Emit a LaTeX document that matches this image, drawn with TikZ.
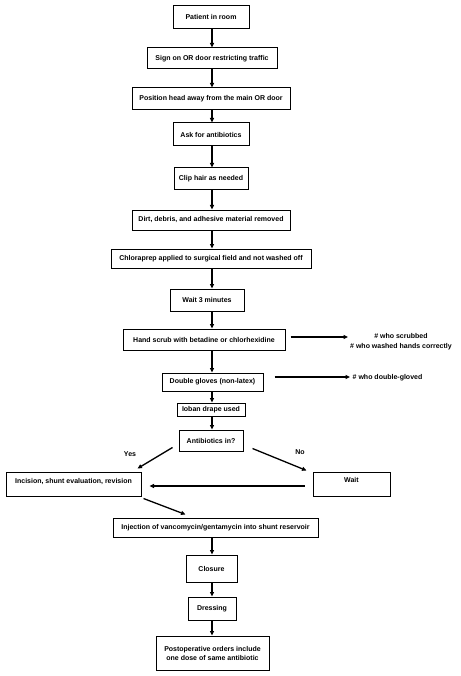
\documentclass[tikz,border=0pt]{standalone}
\usepackage{fontspec}
\setmainfont{Liberation Sans}
\usetikzlibrary{arrows.meta}
\begin{document}
\begin{tikzpicture}[x=1pt,y=-1pt,
  box/.style={draw, line width=1pt, inner sep=0pt, align=center, font=\fontsize{7}{9}\selectfont\bfseries},
  lbl/.style={inner sep=0pt, align=center, font=\fontsize{7}{9.5}\selectfont\bfseries},
  arr/.style={line width=1.3pt, -{Triangle[length=4.5pt,width=4pt]}}]
\useasboundingbox (0,0) rectangle (460,676);
\coordinate (spine) at (212,0);
\node[box, minimum width=76pt, minimum height=23pt] (n1) at (211,17.5) {Patient in room};
\node[box, minimum width=130pt, minimum height=21pt] (n2) at (212,58.5) {Sign on OR door restricting traffic};
\node[box, minimum width=158pt, minimum height=22pt] (n3) at (211,99) {Position head away from the main OR door};
\node[box, minimum width=76pt, minimum height=23pt] (n4) at (211,134.5) {Ask for antibiotics};
\node[box, minimum width=74pt, minimum height=22pt] (n5) at (211,179) {Clip hair as needed};
\node[box, minimum width=158pt, minimum height=20pt] (n6) at (211,220) {Dirt, debris, and adhesive material removed};
\node[box, minimum width=200pt, minimum height=19pt] (n7) at (211,258.5) {Chloraprep applied to surgical field and not washed off};
\node[box, minimum width=74pt, minimum height=22pt] (n8) at (207,300) {Wait 3 minutes};
\node[box, minimum width=162pt, minimum height=21pt] (n9) at (204,339.5) {Hand scrub with betadine or chlorhexidine};
\node[box, minimum width=101pt, minimum height=18pt] (n10) at (212.5,382) {Double gloves (non-latex)};
\node[box, minimum width=68pt, minimum height=13pt] (n11) at (211,409.5) {Ioban drape used};
\node[box, minimum width=64pt, minimum height=21pt] (n12) at (211,440.5) {Antibiotics in?};
\node[box, minimum width=135pt, minimum height=24pt, text depth=6pt] (inc) at (73.5,484) {Incision, shunt evaluation, revision};
\node[box, minimum width=77pt, minimum height=24pt, text depth=8pt] (wait) at (351.5,484) {Wait};
\node[box, minimum width=205pt, minimum height=19pt] (inj) at (215.5,527.5) {Injection of vancomycin/gentamycin into shunt reservoir};
\node[box, minimum width=51pt, minimum height=27pt] (n16) at (211.5,568.5) {Closure};
\node[box, minimum width=48pt, minimum height=23pt] (n17) at (212,608.5) {Dressing};
\node[box, minimum width=113pt, minimum height=34pt] (n18) at (212.5,653) {Postoperative orders include\\one dose of same antibiotic};
\node[lbl, anchor=west] (t1) at (350,341.5) {\# who scrubbed\\\# who washed hands correctly};
\node[lbl, anchor=west] (t2) at (352.5,377.5) {\# who double-gloved};
\node[lbl] (yes) at (130,454) {Yes};
\node[lbl] (no) at (300,452) {No};
\foreach \a/\b in {n1/n2,n2/n3,n3/n4,n4/n5,n5/n6,n6/n7,n7/n8,n8/n9,n9/n10,n10/n11,n11/n12,inj/n16,n16/n17,n17/n18}
  \draw[arr] (\a.south -| spine) -- (\b.north -| spine);
\draw[arr] ([xshift=5pt,yshift=2.5pt]n9.east) -- ([xshift=-2pt,yshift=2.5pt]n9.east -| t1.west);
\draw[arr] ([xshift=11pt,yshift=5pt]n10.east) -- ([xshift=-2.5pt,yshift=5pt]n10.east -| t2.west);
\draw[arr] ([xshift=-6pt,yshift=4pt]n12.south west) -- ([xshift=-4pt,yshift=3pt]inc.north east);
\draw[arr] ([xshift=9pt,yshift=3pt]n12.south east) -- ([xshift=-6pt,yshift=1pt]wait.north west);
\draw[arr] ([xshift=-8pt,yshift=-2pt]wait.west) -- ([xshift=8pt,yshift=-2pt]inc.east);
\draw[arr] ([xshift=2pt,yshift=-2pt]inc.south east) -- ([xshift=-30pt,yshift=3pt]inj.north);
\end{tikzpicture}
\end{document}
